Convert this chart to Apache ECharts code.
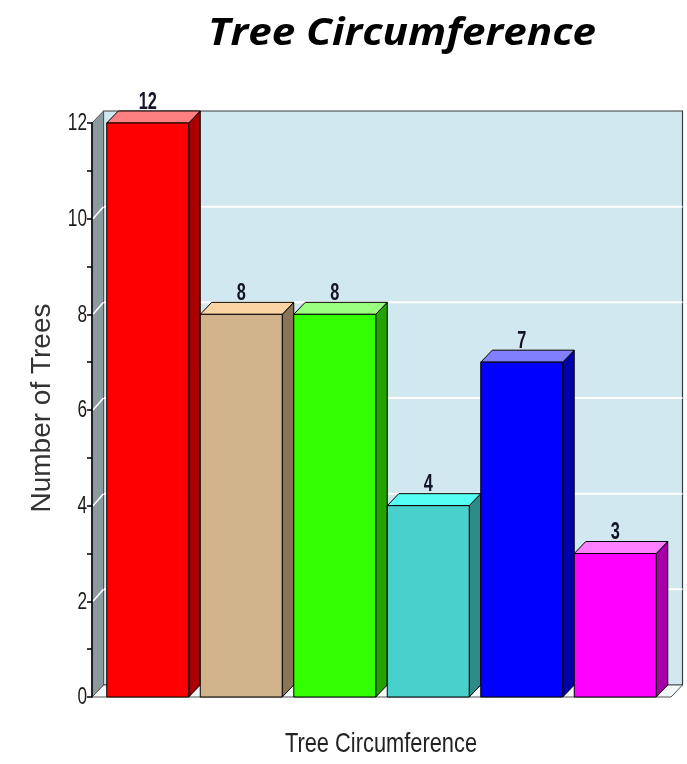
<!DOCTYPE html>
<html>
<head>
<meta charset="utf-8">
<script src="https://cdn.jsdelivr.net/npm/echarts@6/dist/echarts.min.js"></script>
<style>
  html, body { margin: 0; padding: 0; background: #fff; }
  #chart { width: 687px; height: 764px; }
</style>
</head>
<body>
<div id="chart"></div>
<script>
// Tree counts per circumference class
const categories = ['A', 'B', 'C', 'D', 'E', 'F'];
const treeCounts = [12, 8, 8, 4, 7, 3];
const yTicks = { min: 0, max: 12, interval: 2 };

// Front, top and side shades for each bar
const barShades = [
  { front: '#ff0000', top: '#ff8080', side: '#aa0000' },
  { front: '#d2b48c', top: '#fcd3a2', side: '#8a7358' },
  { front: '#33ff00', top: '#99ff80', side: '#22a300' },
  { front: '#48d1cc', top: '#55fff4', side: '#2e8a86' },
  { front: '#0000ff', top: '#8080ff', side: '#0000a8' },
  { front: '#ff00ff', top: '#ff80ff', side: '#a800a8' }
];

const DX = 11.5, DY = -12;      // 3D depth offset
const AXIS_OFFSET = 9;          // y axis sits left of the category band
const NARROW = '"Liberation Sans", Arial, sans-serif';

const chart = echarts.init(document.getElementById('chart'), null, { renderer: 'canvas' });

// Back panel, floor, side wall and tick labels, all placed from the y scale
function renderFrame(params, api) {
  const cs = params.coordSys;
  const x0 = cs.x - AXIS_OFFSET;
  const x1 = cs.x + cs.width + 9;
  const yBottom = api.coord([0, yTicks.min])[1];
  const yTop = api.coord([0, yTicks.max])[1];
  const children = [];
  // back panel
  children.push({
    type: 'rect',
    shape: { x: x0 + DX, y: yTop + DY, width: x1 - x0, height: yBottom - yTop },
    style: { fill: '#d1e8f0', stroke: '#3a3a3a', lineWidth: 1.2 }
  });
  // grid lines on the back panel and across the wall
  for (let v = yTicks.min + yTicks.interval; v < yTicks.max; v += yTicks.interval) {
    const y = api.coord([0, v])[1];
    children.push({
      type: 'line',
      shape: { x1: x0 + DX, y1: y + DY, x2: x1 + DX, y2: y + DY },
      style: { stroke: '#ffffff', lineWidth: 2 }
    });
  }
  // floor
  children.push({
    type: 'polygon',
    shape: { points: [[x0, yBottom], [x0 + DX, yBottom + DY], [x1 + DX, yBottom + DY], [x1, yBottom]] },
    style: { fill: '#f3f9fb', stroke: '#555', lineWidth: 1 }
  });
  // left wall
  children.push({
    type: 'polygon',
    shape: { points: [[x0, yBottom], [x0, yTop], [x0 + DX, yTop + DY], [x0 + DX, yBottom + DY]] },
    style: { fill: '#8a9a9e', stroke: '#555', lineWidth: 1 }
  });
  for (let v = yTicks.min + yTicks.interval; v < yTicks.max; v += yTicks.interval) {
    const y = api.coord([0, v])[1];
    children.push({
      type: 'line',
      shape: { x1: x0 + 1, y1: y, x2: x0 + DX, y2: y + DY },
      style: { stroke: '#ffffff', lineWidth: 1.5 }
    });
  }
  // tick labels
  for (let v = yTicks.min; v <= yTicks.max; v += yTicks.interval) {
    const y = api.coord([0, v])[1];
    children.push({
      type: 'text',
      x: x0 - 5,
      y: y + 1,
      scaleX: 0.75,
      style: {
        text: String(v), align: 'right', verticalAlign: 'middle',
        fill: '#1a1a1a', font: '23px ' + NARROW
      }
    });
  }
  return { type: 'group', children: children };
}

function renderBar(params, api) {
  const idx = params.dataIndex;
  const val = api.value(1);
  const topPt = api.coord([api.value(0), val]);
  const basePt = api.coord([api.value(0), 0]);
  const bandW = api.size([1, 0])[0];
  const w = bandW * 0.877;
  const l = topPt[0] - w / 2;
  const r = l + w;
  const t = topPt[1];
  const b = basePt[1];
  const shade = barShades[idx];
  const edge = { stroke: '#000', lineWidth: 1 };
  return {
    type: 'group',
    children: [
      {
        type: 'polygon',
        shape: { points: [[r, t], [r + DX, t + DY], [r + DX, b + DY], [r, b]] },
        style: Object.assign({ fill: shade.side }, edge)
      },
      {
        type: 'polygon',
        shape: { points: [[l, t], [l + DX, t + DY], [r + DX, t + DY], [r, t]] },
        style: Object.assign({ fill: shade.top }, edge)
      },
      {
        type: 'rect',
        shape: { x: l, y: t, width: w, height: b - t },
        style: Object.assign({ fill: shade.front }, edge)
      },
      {
        type: 'text',
        x: topPt[0],
        y: t + DY + 3,
        scaleX: 0.68,
        style: {
          text: String(val),
          align: 'center',
          verticalAlign: 'bottom',
          fill: '#141428',
          font: 'bold 24px ' + NARROW
        }
      }
    ]
  };
}

const option = {
  animation: false,
  graphic: [
    {
      type: 'text',
      x: 208, y: 16,
      scaleX: 1.14,
      style: {
        text: 'Tree Circumference', align: 'left', verticalAlign: 'top',
        fill: '#000', font: 'italic bold 37px "Open Sans", Lato, sans-serif'
      }
    },
    {
      type: 'text',
      x: 381, y: 744,
      scaleX: 0.78,
      style: {
        text: 'Tree Circumference', align: 'center', verticalAlign: 'middle',
        fill: '#222', font: '28px ' + NARROW
      }
    },
    {
      type: 'text',
      x: 42, y: 408,
      rotation: Math.PI / 2,
      style: {
        text: 'Number of Trees', align: 'center', verticalAlign: 'middle',
        fill: '#333', font: '28px ' + NARROW
      }
    }
  ],
  grid: [
    { left: 101, top: 123, width: 561, height: 574 }
  ],
  xAxis: [
    {
      type: 'category', gridIndex: 0, data: categories,
      axisLine: { show: false }, axisTick: { show: false }, axisLabel: { show: false }
    }
  ],
  yAxis: [
    {
      type: 'value', gridIndex: 0, min: yTicks.min, max: yTicks.max, interval: yTicks.interval,
      offset: AXIS_OFFSET, z: 5,
      axisLine: { show: true, lineStyle: { color: '#000', width: 1.5 } },
      axisTick: { show: true, length: 5, lineStyle: { color: '#000', width: 1.5 } },
      minorTick: { show: true, splitNumber: 2, length: 5, lineStyle: { color: '#000', width: 1.5 } },
      splitLine: { show: false },
      axisLabel: { show: false }
    }
  ],
  series: [
    {
      type: 'custom', xAxisIndex: 0, yAxisIndex: 0, z: 1,
      renderItem: renderFrame, data: [[0, 0]], silent: true, clip: false
    },
    {
      type: 'custom', xAxisIndex: 0, yAxisIndex: 0, z: 3,
      renderItem: renderBar,
      data: categories.map((c, i) => [i, treeCounts[i]]),
      clip: false
    }
  ]
};

chart.setOption(option);
</script>
</body>
</html>
